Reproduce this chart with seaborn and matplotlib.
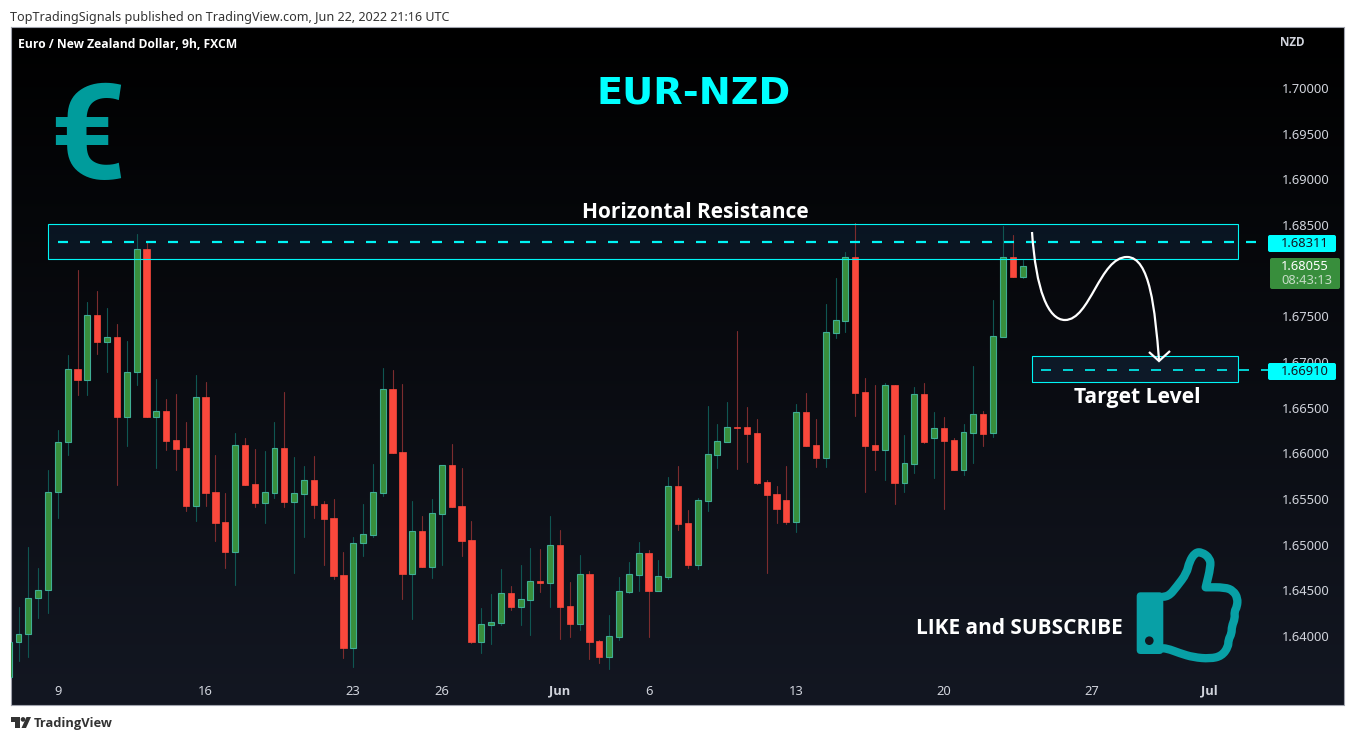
import matplotlib
matplotlib.use("Agg")
import matplotlib.pyplot as plt
import matplotlib.transforms as mtrans
from matplotlib.patches import Rectangle, FancyBboxPatch, Circle, PathPatch, Polygon
from matplotlib.path import Path
import numpy as np
import pandas as pd
import seaborn as sns

direction = list("UUUUUUUDUD" "UDUUDUDDDU" "DDDUDDUUDU" "UDDDDUUUUD" "DUDUUDDDUU"
                 "UDUUDUDDUD" "DUUUUDUUDD" "UUUUDDDDDD" "UDDUUUDDDU" "DUUDUDDUUD" "UUDU")

wick_high = [1.63930, 1.64317, 1.64974, 1.64741, 1.65817, 1.66255, 1.67077, 1.68007, 1.67653, 1.67778,
             1.67588, 1.67416, 1.67230, 1.68402, 1.68310, 1.66814, 1.66595, 1.66650, 1.66343, 1.66858,
             1.66781, 1.65982, 1.65566, 1.66219, 1.66168, 1.66047, 1.66026, 1.66343, 1.66668, 1.65960,
             1.65861, 1.65971, 1.65478, 1.65500, 1.64920, 1.65083, 1.65445, 1.65883, 1.66934, 1.66912,
             1.66759, 1.65478, 1.65313, 1.65499, 1.65868, 1.66102, 1.65839, 1.65259, 1.64306, 1.64459,
             1.64733, 1.64547, 1.64777, 1.64963, 1.64952, 1.65313, 1.65160, 1.64591, 1.64886, 1.64711,
             1.63955, 1.64229, 1.64642, 1.64810, 1.65029, 1.64941, 1.64831, 1.65740, 1.65861, 1.65379,
             1.65507, 1.66518, 1.66321, 1.66562, 1.67340, 1.66507, 1.66376, 1.65708, 1.65642, 1.65861,
             1.66540, 1.66661, 1.66376, 1.67635, 1.67920, 1.68205, 1.68518, 1.66825, 1.66748, 1.66770,
             1.66745, 1.66201, 1.66726, 1.66770, 1.66453, 1.66398, 1.66168, 1.66321, 1.66956, 1.66464,
             1.67679, 1.68489, 1.68391, 1.68117]
body_top = [1.63930, 1.64018, 1.64412, 1.64500, 1.65573, 1.66120, 1.66920, 1.66920, 1.67511, 1.67511,
            1.67270, 1.67270, 1.66887, 1.68234, 1.68234, 1.66460, 1.66460, 1.66142, 1.66055, 1.66613,
            1.66613, 1.65573, 1.65244, 1.66088, 1.66088, 1.65661, 1.65573, 1.66055, 1.66055, 1.65562,
            1.65704, 1.65704, 1.65442, 1.65288, 1.64664, 1.65014, 1.65113, 1.65572, 1.66700, 1.66700,
            1.66010, 1.65145, 1.65145, 1.65342, 1.65868, 1.65868, 1.65419, 1.65047, 1.64127, 1.64149,
            1.64466, 1.64466, 1.64401, 1.64598, 1.64602, 1.64992, 1.64992, 1.64324, 1.64675, 1.64675,
            1.63941, 1.63996, 1.64488, 1.64675, 1.64904, 1.64904, 1.64653, 1.65638, 1.65638, 1.65233,
            1.65485, 1.65989, 1.66131, 1.66285, 1.66288, 1.66285, 1.66219, 1.65682, 1.65551, 1.65485,
            1.66449, 1.66449, 1.66088, 1.67325, 1.67456, 1.68146, 1.68146, 1.66668, 1.66088, 1.66745,
            1.66745, 1.65890, 1.66646, 1.66646, 1.66274, 1.66274, 1.66142, 1.66230, 1.66427, 1.66427,
            1.67281, 1.68146, 1.68146, 1.68048]
body_bottom = [1.63554, 1.63930, 1.64018, 1.64412, 1.64500, 1.65573, 1.66120, 1.66807, 1.66807, 1.67223,
               1.67223, 1.66401, 1.66401, 1.66887, 1.66401, 1.66401, 1.66139, 1.66051, 1.65427, 1.65427,
               1.65569, 1.65241, 1.64923, 1.64923, 1.65657, 1.65460, 1.65460, 1.65569, 1.65471, 1.65471,
               1.65558, 1.65438, 1.65285, 1.64660, 1.63872, 1.63872, 1.65014, 1.65109, 1.65569, 1.66007,
               1.64682, 1.64682, 1.64758, 1.64758, 1.65339, 1.65415, 1.65043, 1.63937, 1.63937, 1.64123,
               1.64145, 1.64320, 1.64320, 1.64397, 1.64583, 1.64583, 1.64320, 1.64134, 1.64134, 1.63937,
               1.63773, 1.63773, 1.63992, 1.64485, 1.64671, 1.64496, 1.64496, 1.64649, 1.65229, 1.64780,
               1.64781, 1.65482, 1.65985, 1.66128, 1.66277, 1.66215, 1.65679, 1.65547, 1.65394, 1.65252,
               1.65252, 1.66084, 1.65953, 1.65953, 1.67321, 1.67453, 1.66664, 1.66084, 1.66040, 1.66040,
               1.65679, 1.65679, 1.65887, 1.66128, 1.66172, 1.66139, 1.65821, 1.65821, 1.66226, 1.66215,
               1.66219, 1.67277, 1.67934, 1.67934]
wick_low = [1.63554, 1.63730, 1.63773, 1.64201, 1.64255, 1.65296, 1.65982, 1.66639, 1.66639, 1.67088,
            1.66891, 1.65653, 1.66080, 1.66748, 1.66401, 1.65839, 1.66036, 1.65817, 1.65369, 1.65259,
            1.65423, 1.65040, 1.64744, 1.64558, 1.65657, 1.65412, 1.65237, 1.65511, 1.65412, 1.64690,
            1.65084, 1.65292, 1.64777, 1.64624, 1.63759, 1.63660, 1.64875, 1.65083, 1.65532, 1.66007,
            1.64404, 1.64185, 1.64758, 1.64634, 1.64777, 1.65415, 1.64875, 1.63923, 1.63813, 1.63912,
            1.64120, 1.64284, 1.64120, 1.64010, 1.64481, 1.64317, 1.63966, 1.63988, 1.64065, 1.63747,
            1.63704, 1.63638, 1.63955, 1.64470, 1.64492, 1.63988, 1.64496, 1.64623, 1.65160, 1.64744,
            1.64733, 1.65369, 1.65839, 1.66128, 1.65828, 1.65905, 1.65664, 1.64690, 1.65237, 1.65226,
            1.65139, 1.66084, 1.65850, 1.65850, 1.67263, 1.67329, 1.66409, 1.65577, 1.65817, 1.65708,
            1.65445, 1.65577, 1.65785, 1.66113, 1.65730, 1.65394, 1.65821, 1.65763, 1.65894, 1.66080,
            1.66179, 1.67277, 1.67934, 1.67920]

date_ticks = [5, 20, 35, 44, 56, 65, 80, 95, 110, 122]
date_labels = ["9", "16", "23", "26", "Jun", "6", "13", "20", "27", "Jul"]
# 1.68000 is hidden behind the last price tag
price_ticks = [1.64, 1.645, 1.65, 1.655, 1.66, 1.665, 1.67, 1.675, 1.685, 1.69, 1.695, 1.70]

resistance_level = 1.68311
resistance_zone = [1.68128, 1.68511]
target_level = 1.66910
target_zone = [1.66786, 1.67066]
last_price = 1.68055

CYAN = "#00f5f5"
TEAL = "#009c9c"
UP_FILL, UP_EDGE, UP_WICK = "#388e3c", "#3fae94", "#0f5652"
DOWN_FILL, DOWN_WICK = "#fa483c", "#7c2c2e"
TICK = "#d1d4dc"
BOLD = "Open Sans"

W, H = 1354, 740
sns.set_theme(style="dark")
plt.rcParams["font.family"] = ["Noto Sans", "DejaVu Sans"]

fig = plt.figure(figsize=(W / 100, H / 100), dpi=100, facecolor="white")
ax = fig.add_axes([10.5 / W, (H - 705) / H, 1333 / W, 678 / H])

# pixel coordinates for the drawings that sit on top of the chart
px = mtrans.Affine2D().scale(1, -1).translate(0, H)

# background gradient
shade = np.linspace(0, 1, 256)[:, None, None] * np.array([19, 23, 34]) / 255
ax.imshow(shade, extent=(0, 1, 0, 1), transform=ax.transAxes, aspect="auto", zorder=0)

# candles
df = pd.DataFrame({"candle": range(len(direction)), "direction": direction,
                   "high": wick_high, "low": wick_low,
                   "top": body_top, "bottom": body_bottom})
wicks = df.melt(id_vars=["candle", "direction"], value_vars=["high", "low"], value_name="price")
sns.lineplot(data=wicks, x="candle", y="price", hue="direction", units="candle", estimator=None,
             palette={"U": UP_WICK, "D": DOWN_WICK}, linewidth=0.8, legend=False, ax=ax, zorder=2)
up = df[df["direction"] == "U"]
down = df[df["direction"] == "D"]
ax.bar(up["candle"], up["top"] - up["bottom"], bottom=up["bottom"], width=0.6,
       color=UP_FILL, edgecolor=UP_EDGE, linewidth=0.8, zorder=3)
ax.bar(down["candle"], down["top"] - down["bottom"], bottom=down["bottom"], width=0.64,
       color=DOWN_FILL, edgecolor=DOWN_FILL, linewidth=0.5, zorder=3)

# zones and levels
for x0, x1, zone in [(4, 124.9, resistance_zone), (104, 124.9, target_zone)]:
    ax.add_patch(Rectangle((x0, zone[0]), x1 - x0, zone[1] - zone[0],
                           facecolor="#2a7fd0", alpha=0.12, edgecolor="none", zorder=1))
    ax.add_patch(Rectangle((x0, zone[0]), x1 - x0, zone[1] - zone[0],
                           facecolor="none", edgecolor=CYAN, linewidth=0.8, zorder=4))
ax.plot([5, 127.9], [resistance_level] * 2, color=CYAN, lw=1.6, linestyle=(0, (4.5, 5.4)), zorder=4)
ax.plot([104.9, 127.9], [target_level] * 2, color=CYAN, lw=1.2, linestyle=(0, (6, 7.2)), zorder=4)

ax.set_xlim(0.183, 135.6)
ax.set_ylim(1.63244, 1.70668)
ax.set_xlabel("")
ax.set_ylabel("")
ax.grid(False)

ax.yaxis.tick_right()
ax.set_yticks(price_ticks)
ax.set_yticklabels([f"{p:.5f}" for p in price_ticks], ha="right", fontsize=9.3, color=TICK)
ax.tick_params(axis="y", length=0, pad=-10)
ax.set_xticks(date_ticks)
ax.set_xticklabels(date_labels, fontsize=9.3, color=TICK)
ax.tick_params(axis="x", length=0, pad=-14.5)
for lab in ax.get_xticklabels():
    if lab.get_text() in ("Jun", "Jul"):
        lab.set_family(BOLD)
        lab.set_fontweight("bold")
for s in ax.spines.values():
    s.set_visible(True)
    s.set_color("#a0a3ad")
    s.set_linewidth(0.8)


def text_px(x, y, s, **kw):
    kw.setdefault("va", "center")
    kw.setdefault("zorder", 8)
    return fig.text(x, y, s, transform=px, **kw)


def smooth_path(points):
    # quadratic curves through the midpoints, a repeated point gives a sharp corner
    p = np.array(points, dtype=float)
    verts, codes = [p[0]], [Path.MOVETO]
    for i in range(1, len(p) - 1):
        end = (p[i] + p[i + 1]) / 2 if i < len(p) - 2 else p[-1]
        verts += [p[i], end]
        codes += [Path.CURVE3, Path.CURVE3]
    return Path(verts, codes)


# the projected path and its arrow head
curve = Path([(1032, 232), (1036, 290), (1048, 320), (1065, 320), (1090, 320), (1100, 257), (1127, 257),
              (1150, 257), (1155, 310), (1159, 360)],
             [Path.MOVETO] + [Path.CURVE4] * 9)
fig.add_artist(PathPatch(curve, transform=px, facecolor="none", edgecolor="white", lw=1.6, zorder=6))
head = Path([(1149, 352), (1159, 361), (1170, 351)])
fig.add_artist(PathPatch(head, transform=px, facecolor="none", edgecolor="white", lw=1.6, zorder=6))

# price tags
for y0, y1, value in [(235, 252, resistance_level), (363, 380, target_level)]:
    fig.add_artist(FancyBboxPatch((1268, y0), 68, y1 - y0, boxstyle="round,pad=0,rounding_size=2",
                                  transform=px, facecolor="#00ffff", edgecolor="none", zorder=7))
    text_px(1329, (y0 + y1) / 2, f"{value:.5f}", ha="right", fontsize=9.3, color="#131722")
fig.add_artist(FancyBboxPatch((1270, 258), 70, 31, boxstyle="round,pad=0,rounding_size=2",
                              transform=px, facecolor=UP_FILL, edgecolor="none", zorder=7))
text_px(1329, 266.5, f"{last_price:.5f}", ha="right", fontsize=9.3, color="white")
text_px(1332, 281, "08:43:13", ha="right", fontsize=9.3, color="#c4dcc5")

# texts
text_px(10, 18, "TopTradingSignals published on TradingView.com, Jun 22, 2022 21:16 UTC",
        fontsize=9.05, color="#333333")
text_px(18, 45, "Euro / New Zealand Dollar, 9h, FXCM", family=BOLD, fontsize=8.7, fontweight="bold", color="white")
text_px(1292.5, 42, "NZD", ha="center", family=BOLD, fontsize=8.4, fontweight="bold", color=TICK)
text_px(694, 93.5, "EUR-NZD", ha="center", family="DejaVu Sans", fontsize=27.5, fontweight="bold", color="#00ffff")
text_px(87, 143, "€", ha="center", family="Roboto", fontsize=96, fontweight="bold", color=TEAL)
text_px(695, 213, "Horizontal Resistance", ha="center", family=BOLD, fontsize=15, fontweight="bold", color="white")
text_px(1137.5, 398, "Target Level", ha="center", family=BOLD, fontsize=15.2, fontweight="bold", color="white")
text_px(1019.5, 628, "LIKE and SUBSCRIBE", ha="center", family=BOLD, fontsize=15, fontweight="bold", color="white")

# thumbs up
thumb = [(1163.3, 596.7), (1168.3, 596.7), (1176.7, 586.7), (1186.7, 573.3), (1189.3, 561.7), (1195, 552.7),
         (1201.7, 552), (1210, 558.3), (1210.7, 566.7), (1205.7, 587.3), (1205.7, 587.3), (1225, 587.3), (1233.3, 590.7),
         (1237.7, 598.3), (1237, 606.7), (1234.3, 611.7), (1235, 618.3), (1231.7, 626.7), (1231.7, 633.3),
         (1228.3, 640), (1228.3, 646.7), (1221.7, 656), (1210, 658.7), (1193.3, 657.3), (1180, 653.3),
         (1166.7, 648.3), (1163.3, 648.3)]
fig.add_artist(PathPatch(smooth_path(thumb), transform=px, facecolor="none", edgecolor="#08a0a6", lw=6,
                         joinstyle="round", capstyle="round", zorder=6))
fig.add_artist(FancyBboxPatch((1136.7, 592.3), 26.6, 61.7, boxstyle="round,pad=0,rounding_size=4",
                              transform=px, facecolor="#08a0a6", edgecolor="none", zorder=6))
fig.add_artist(Circle((1149.3, 640.7), 4.3, transform=px, facecolor="#12161f", edgecolor="none", zorder=7))

# TradingView logo
logo = "#333333"
fig.add_artist(Polygon([(11, 717), (20, 717), (20, 728), (15, 728), (15, 722), (11, 722)],
                       transform=px, facecolor=logo, edgecolor="none"))
fig.add_artist(Circle((23, 719.4), 2.3, transform=px, facecolor=logo, edgecolor="none"))
fig.add_artist(Polygon([(26.5, 717), (31, 717), (26, 728), (21.5, 728)],
                       transform=px, facecolor=logo, edgecolor="none"))
text_px(34, 723, "TradingView", family=BOLD, fontsize=9.3, fontweight="bold", color=logo)

fig.savefig("out.png", dpi=100)
